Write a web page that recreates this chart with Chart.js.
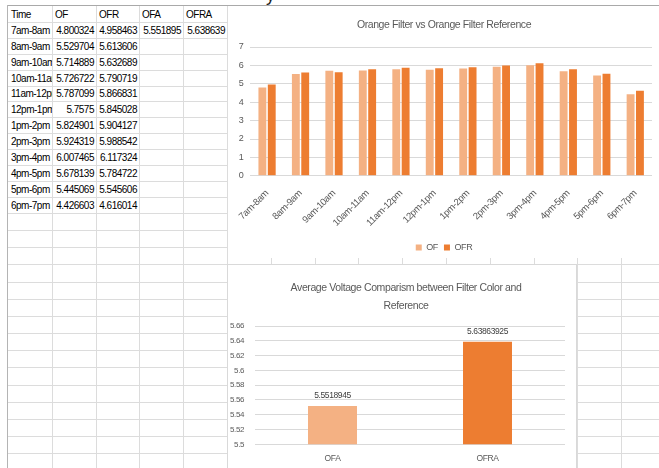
<!DOCTYPE html>
<html>
<head>
<meta charset="utf-8">
<script src="https://cdn.jsdelivr.net/npm/chart.js@4.4.1/dist/chart.umd.min.js"></script>
<style>
  html, body { margin: 0; padding: 0; background: #fff; }
  body {
    width: 659px; height: 468px; overflow: hidden; position: relative;
    font-family: "Liberation Sans", Arial, sans-serif;
  }
  .ln { position: absolute; background: #dcdcdc; }
  .cell {
    position: absolute; font-size: 10px; letter-spacing: -0.5px; color: #000; white-space: nowrap;
    overflow: hidden; box-sizing: border-box; padding: 0 2px;
  }
  .num { text-align: right; }
  #topBox { position: absolute; left: 228px; top: 6px; width: 431px; height: 252px; background: #fff; }
  #topBox canvas { position: absolute; left: 0; top: 0; }
  #bottomBox {
    position: absolute; left: 227px; top: 264px; width: 350px; height: 230px;
    background: #fff; border: 1px solid #d9d9d9; box-sizing: border-box;
  }
  #bottomBox canvas { display: block; }
  .above { position: absolute; left: 266px; top: -14px; font: 18px "Liberation Sans", sans-serif; line-height: 18px; color: #222; }
</style>
</head>
<body>
<div class="above">y</div>
<div id="sheet"></div>
<div id="topBox"><canvas id="hourlyChart" width="431" height="256"></canvas></div>
<div id="bottomBox"><canvas id="averageChart" width="348" height="228"></canvas></div>
<script>
// Hourly readings: orange filter (OF) and orange filter reference (OFR)
const timeSlots = ["7am-8am", "8am-9am", "9am-10am", "10am-11am", "11am-12pm", "12pm-1pm",
                   "1pm-2pm", "2pm-3pm", "3pm-4pm", "4pm-5pm", "5pm-6pm", "6pm-7pm"];
const ofValues  = [4.800324, 5.529704, 5.714889, 5.726722, 5.787099, 5.7575,
                   5.824901, 5.924319, 6.007465, 5.678139, 5.445069, 4.426603];
const ofrValues = [4.958463, 5.613606, 5.632689, 5.790719, 5.866831, 5.845028,
                   5.904127, 5.988542, 6.117324, 5.784722, 5.545606, 4.616014];

// Daily averages
const averageLabels = ["OFA", "OFRA"];
const averageValues = [5.5518945, 5.63863925];

const headers = ["Time", "OF", "OFR", "OFA", "OFRA"];
const hourlyTitle = "Orange Filter vs Orange Filter Reference";
const averageTitle = ["Average Voltage Comparism between Filter Color and", "Reference"];

const FONT = '"Liberation Sans", Arial, sans-serif';
const TEXT = '#595959';
const LIGHT = '#F4B183';
const DARK = '#ED7D31';
const GRID = '#d9d9d9';

// ---------- worksheet grid ----------
const sheet = document.getElementById('sheet');
const colX = [];
for (let i = 0; i < 16; i++) colX.push(8 + i * 43.8);
const rowY = [6];
for (let i = 1; i <= 13; i++) rowY.push(6 + i * 15.9);
while (rowY[rowY.length - 1] < 470) rowY.push(rowY[rowY.length - 1] + 17.2);

function line(x, y, w, h, color) {
  const d = document.createElement('div');
  d.className = 'ln';
  d.style.left = x + 'px'; d.style.top = y + 'px';
  d.style.width = w + 'px'; d.style.height = h + 'px';
  if (color) d.style.background = color;
  sheet.appendChild(d);
}
rowY.forEach((y, i) => { if (i > 0) line(8, Math.round(y), 660, 1); });
colX.forEach((x, i) => { if (i > 0) line(Math.round(x), 6, 1, 470); });
line(8, 5, 660, 1, '#a9a9a9');
line(7, 5, 1, 470, '#b4b4b4');

function fmt(v) { return String(Math.round(v * 1e6 + 1e-6) / 1e6); }
function cell(col, row, text, numeric) {
  const d = document.createElement('div');
  d.className = 'cell' + (numeric ? ' num' : '');
  const x0 = Math.round(colX[col]) + 1, x1 = Math.round(colX[col + 1]);
  const y0 = Math.round(rowY[row]) + 1, y1 = Math.round(rowY[row + 1]);
  d.style.left = x0 + 'px'; d.style.width = (x1 - x0) + 'px';
  d.style.top = y0 + 'px'; d.style.height = (y1 - y0) + 'px';
  d.style.lineHeight = (y1 - y0) + 'px';
  d.textContent = text;
  sheet.appendChild(d);
}
headers.forEach((h, c) => cell(c, 0, h, false));
timeSlots.forEach((t, r) => {
  cell(0, r + 1, t, false);
  cell(1, r + 1, fmt(ofValues[r]), true);
  cell(2, r + 1, fmt(ofrValues[r]), true);
});
averageValues.forEach((v, i) => cell(3 + i, 1, fmt(v), true));

// ---------- charts ----------
Chart.defaults.font.family = FONT;
Chart.defaults.color = TEXT;

// tighter letter spacing for all canvas text
const tightText = {
  id: 'tightText',
  beforeUpdate(chart) { chart.ctx.letterSpacing = '-0.4px'; },
  beforeDraw(chart) { chart.ctx.letterSpacing = '-0.4px'; }
};
// let the y tick labels extend past the narrow axis box
function unclipLabels(scale) { scale._computeLabelArea = () => null; }

new Chart(document.getElementById('hourlyChart'), {
  type: 'bar',
  data: {
    labels: timeSlots,
    datasets: [
      { label: 'OF', data: ofValues, backgroundColor: LIGHT, categoryPercentage: 0.56, barPercentage: 0.84 },
      { label: 'OFR', data: ofrValues, backgroundColor: DARK, categoryPercentage: 0.56, barPercentage: 0.84 }
    ]
  },
  options: {
    responsive: false, animation: false, devicePixelRatio: 1,
    layout: { padding: { left: 8, right: 7, top: 0, bottom: 0 } },
    plugins: {
      title: {
        display: true, text: hourlyTitle, color: TEXT,
        font: { size: 10.5, weight: 'normal', lineHeight: '16px' },
        padding: { top: 11, bottom: 14 }
      },
      legend: {
        position: 'bottom',
        labels: { boxWidth: 6, boxHeight: 6, padding: 6, color: TEXT, font: { size: 9 } }
      },
      tooltip: { enabled: false }
    },
    scales: {
      x: {
        grid: { display: false, drawTicks: false }, border: { display: false },
        ticks: { color: TEXT, font: { size: 9.5 }, minRotation: 45, maxRotation: 45, padding: 12, autoSkip: false },
        afterFit(s) {
          const legendH = s.chart.legend ? s.chart.legend.height : 31;
          s.height = s.chart.height - legendH - 169.8;
        }
      },
      y: {
        min: 0, max: 7,
        ticks: { stepSize: 1, color: TEXT, font: { size: 9 }, padding: 7 },
        grid: { color: GRID, drawTicks: false }, border: { display: false },
        afterFit(s) { s.width = 8; unclipLabels(s); }
      }
    }
  },
  plugins: [tightText]
});

// value printed above each average bar
const barValueLabels = {
  id: 'barValueLabels',
  afterDatasetsDraw(chart) {
    const ctx = chart.ctx;
    chart.data.datasets.forEach((ds, i) => {
      chart.getDatasetMeta(i).data.forEach((bar, j) => {
        ctx.save();
        ctx.fillStyle = '#404040';
        ctx.font = '8.5px ' + FONT;
        ctx.textAlign = 'center';
        ctx.textBaseline = 'middle';
        ctx.fillText(String(ds.data[j]), bar.x, bar.y - 10);
        ctx.restore();
      });
    });
  }
};

new Chart(document.getElementById('averageChart'), {
  type: 'bar',
  data: {
    labels: averageLabels,
    datasets: [{
      data: averageValues, backgroundColor: [LIGHT, DARK],
      categoryPercentage: 1, barPercentage: 0.316
    }]
  },
  options: {
    responsive: false, animation: false, devicePixelRatio: 1,
    layout: { padding: { left: 19, right: 11, top: 0, bottom: 0 } },
    plugins: {
      title: {
        display: true, text: averageTitle, color: TEXT,
        font: { size: 10.5, weight: 'normal', lineHeight: '18px' },
        padding: { top: 14, bottom: 11 }
      },
      legend: { display: false },
      tooltip: { enabled: false }
    },
    scales: {
      x: {
        grid: { display: false, drawTicks: false }, border: { display: false },
        ticks: { color: TEXT, font: { size: 8.5 }, padding: 9 },
        afterFit(s) { s.height = 48.7; }
      },
      y: {
        min: 5.5, max: 5.66,
        ticks: { stepSize: 0.02, color: TEXT, font: { size: 8 }, padding: 11,
                 callback: v => String(Number(v.toFixed(2))) },
        grid: { color: GRID, drawTicks: false }, border: { display: false },
        afterFit(s) { s.width = 8; unclipLabels(s); }
      }
    }
  },
  plugins: [tightText, barValueLabels]
});
</script>
</body>
</html>
